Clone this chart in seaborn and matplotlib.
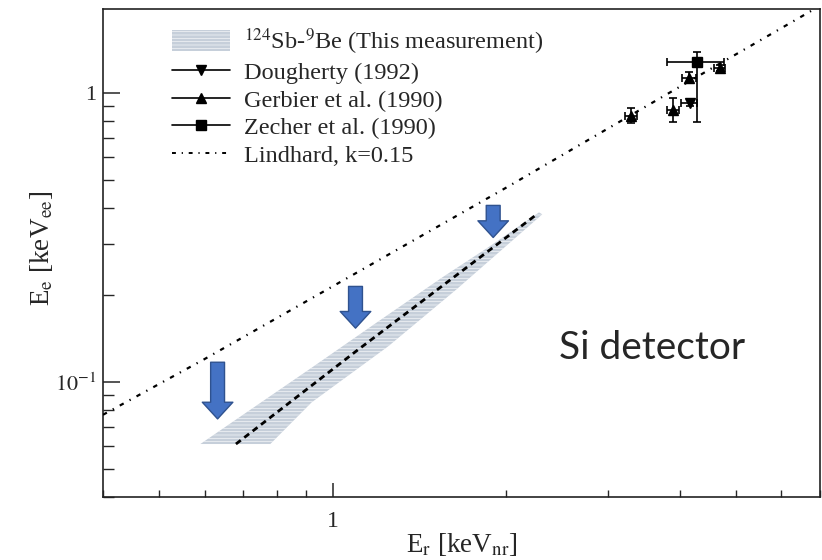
import numpy as np
import pandas as pd
import matplotlib
matplotlib.use("Agg")
import matplotlib.pyplot as plt
import seaborn as sns
from matplotlib.lines import Line2D
from matplotlib.patches import Patch
from matplotlib.ticker import FixedLocator, FuncFormatter, LogLocator, NullFormatter

# Lindhard curve
lindhard_er = [0.4, 0.6, 1.0, 2.0, 4.0, 7.0]
lindhard_ee = [0.077, 0.12, 0.214, 0.47, 1.05, 2.0]

# measured band (upper and lower edge) and its central value
band_hi_er = [0.59, 0.92, 1.19, 1.55, 1.87, 2.28]
band_hi_ee = [0.061, 0.112, 0.160, 0.230, 0.294, 0.386]
band_lo_er = [0.78, 0.92, 1.25, 1.64, 2.31]
band_lo_ee = [0.061, 0.085, 0.133, 0.209, 0.380]
band_mid_er = [0.68, 1.10, 2.26]
band_mid_ee = [0.061, 0.128, 0.380]

# older measurements
dough_er = [4.16]
dough_ee = [0.924]
dough_xerr = [[0.14], [0.12]]
dough_yerr = [[0.02], [0.02]]

gerb_er = [3.29, 3.89, 4.15, 4.69]
gerb_ee = [0.833, 0.874, 1.126, 1.22]
gerb_xerr = [0.08, 0.09, 0.12, 0.10]
gerb_yerr = [[0.047, 0.08, 0.045, 0.03], [0.05, 0.087, 0.05, 0.03]]

zech_er = [4.28]
zech_ee = [1.279]
zech_xerr = [[0.48], [0.49]]
zech_yerr = [[0.485], [0.106]]

# blue arrows added on the slide (x, top, tip)
arrow_er = [0.632, 1.096, 1.899]
arrow_top = [0.117, 0.214, 0.408]
arrow_tip = [0.0745, 0.1535, 0.316]

legend_labels = [r"$^{124}$Sb-$^{9}$Be (This measurement)", "Dougherty (1992)",
                 "Gerbier et al. (1990)", "Zecher et al. (1990)", "Lindhard, k=0.15"]

sns.set_style("ticks")
plt.rcParams["font.family"] = ["Liberation Serif", "DejaVu Serif"]
plt.rcParams["mathtext.fontset"] = "stix"
plt.rcParams["hatch.color"] = "white"
plt.rcParams["hatch.linewidth"] = 0.4

fig = plt.figure(figsize=(8.22, 5.6), dpi=100)
ax = fig.add_axes([103 / 822, 63 / 560, 717 / 822, 488 / 560])

band_color = "#c6cfda"
poly_x = band_hi_er + band_lo_er[::-1]
poly_y = band_hi_ee + band_lo_ee[::-1]
ax.fill(poly_x, poly_y, facecolor=band_color, edgecolor="white", lw=0, hatch="-----", zorder=1)

mid = pd.DataFrame({"er": band_mid_er, "ee": band_mid_ee})
sns.lineplot(data=mid, x="er", y="ee", ax=ax, color="black", lw=2.0,
             linestyle=(0, (2.2, 1.6)), zorder=3)

lind = pd.DataFrame({"er": lindhard_er, "ee": lindhard_ee})
sns.lineplot(data=lind, x="er", y="ee", ax=ax, color="black", lw=1.6,
             linestyle=(0, (2.0, 3.0, 0.6, 3.0)), zorder=3)

ebar_kw = dict(color="black", ls="none", elinewidth=1.2, capsize=3, capthick=1.2, zorder=4)
ax.errorbar(dough_er, dough_ee, xerr=dough_xerr, yerr=dough_yerr, marker="v", ms=7, **ebar_kw)
ax.errorbar(gerb_er, gerb_ee, xerr=gerb_xerr, yerr=gerb_yerr, marker="^", ms=7, **ebar_kw)
ax.errorbar(zech_er, zech_ee, xerr=zech_xerr, yerr=zech_yerr, marker="s", ms=7, **ebar_kw)

for x, top, tip in zip(arrow_er, arrow_top, arrow_tip):
    ax.annotate("", xy=(x, tip), xytext=(x, top),
                arrowprops=dict(arrowstyle="simple,head_width=22,head_length=12,tail_width=10",
                                mutation_scale=1, fc="#4472c4", ec="#2f528f", lw=1,
                                shrinkA=0, shrinkB=0), zorder=5)

ax.set_xscale("log")
ax.set_yscale("log")
ax.set_xlim(0.4, 7.0)
ax.set_ylim(0.04, 1.95)

fmt = FuncFormatter(lambda v, p: "1" if abs(v - 1) < 1e-9 else r"$10^{%d}$" % round(np.log10(v)))
ax.xaxis.set_major_locator(FixedLocator([1.0]))
ax.yaxis.set_major_locator(FixedLocator([0.1, 1.0]))
ax.xaxis.set_major_formatter(fmt)
ax.yaxis.set_major_formatter(fmt)
for axis in (ax.xaxis, ax.yaxis):
    axis.set_minor_locator(LogLocator(base=10, subs=np.arange(2, 10)))
    axis.set_minor_formatter(NullFormatter())

ax.tick_params(axis="x", which="major", direction="in", length=10, width=1.1, labelsize=17, pad=10)
ax.tick_params(axis="x", which="minor", direction="in", length=5, width=1.0)
ax.tick_params(axis="y", which="major", direction="in", length=12, width=1.1, labelsize=16, pad=5)
ax.tick_params(axis="y", which="minor", direction="in", length=8, width=1.0)
for s in ax.spines.values():
    s.set_linewidth(1.2)
    s.set_color("#222222")

ax.set_xlabel(r"E$_\mathrm{r}$ [keV$_\mathrm{nr}$]", fontsize=19.5, labelpad=-1)
ax.set_ylabel(r"E$_\mathrm{e}$ [keV$_\mathrm{ee}$]", fontsize=19.5)
ax.yaxis.set_label_coords(-0.067, 0.51)

ax.text(0.766, 0.305, "Si detector", transform=ax.transAxes, ha="center", va="center",
        fontsize=28, family="Lato")

handles = [
    Patch(facecolor=band_color, edgecolor="white", lw=0, hatch="-----"),
    Line2D([], [], color="black", lw=1.2, marker="v", ms=7),
    Line2D([], [], color="black", lw=1.2, marker="^", ms=7),
    Line2D([], [], color="black", lw=1.2, marker="s", ms=7),
    Line2D([], [], color="black", lw=1.4, linestyle=(0, (2.0, 3.0, 0.6, 3.0))),
]
ax.legend(handles, legend_labels, loc="upper left", bbox_to_anchor=(0.082, 0.985),
          borderaxespad=0, frameon=False, fontsize=17.5, handlelength=2.4,
          handletextpad=0.6, labelspacing=0.17, handleheight=0.9)

fig.savefig("out.png", dpi=100)
